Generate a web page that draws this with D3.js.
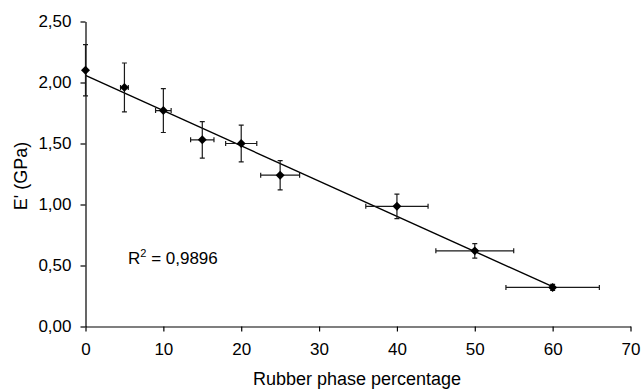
<!DOCTYPE html>
<html>
<head>
<meta charset="utf-8">
<script src="https://cdn.jsdelivr.net/npm/d3@7"></script>
<style>
  html, body { margin: 0; padding: 0; background: #fff; }
  svg { display: block; font-family: "Liberation Sans", Arial, Helvetica, sans-serif; }
</style>
</head>
<body>
<svg id="chart" width="642" height="389"></svg>
<script>
// Storage modulus E' versus rubber phase content
const rubberPct    = [0, 5, 10, 15, 20, 25, 40, 50, 60];
const rubberPctErr = [0, 0.5, 1, 1.5, 2, 2.5, 4, 5, 6];
const modulus      = [2.10, 1.96, 1.77, 1.53, 1.50, 1.24, 0.985, 0.62, 0.32];
const modulusErr   = [0.21, 0.20, 0.18, 0.15, 0.15, 0.12, 0.10, 0.06, 0.025];
const xTicks = [0, 10, 20, 30, 40, 50, 60, 70];
const yTicks = [0, 0.5, 1.0, 1.5, 2.0, 2.5];
const rSquaredLabel = "0,9896";

const svg = d3.select("#chart");
const x = d3.scaleLinear().domain([0, 70]).range([85.5, 630.5]);
const y = d3.scaleLinear().domain([0, 2.5]).range([326.5, 21.5]);

const fmtY = d => d3.format(".2f")(d).replace(".", ",");

// axes
const gx = svg.append("g")
  .attr("transform", `translate(0,${y(0)})`)
  .call(d3.axisBottom(x).tickValues(xTicks).tickSize(5).tickSizeOuter(0).tickPadding(11));
const gy = svg.append("g")
  .attr("transform", `translate(${x(0)},0)`)
  .call(d3.axisLeft(y).tickValues(yTicks).tickFormat(fmtY).tickSize(5).tickSizeOuter(0).tickPadding(9));
[gx, gy].forEach(g => {
  g.selectAll("path, line").attr("stroke", "#000").attr("stroke-width", 1.2);
  g.selectAll("text").attr("fill", "#000").attr("font-size", 17)
    .attr("font-family", "Liberation Sans, Arial, sans-serif");
});

// axis titles
svg.append("text")
  .attr("x", 357).attr("y", 385)
  .attr("text-anchor", "middle").attr("font-size", 18).attr("fill", "#000")
  .text("Rubber phase percentage");
svg.append("text")
  .attr("transform", "translate(27,176) rotate(-90)")
  .attr("text-anchor", "middle").attr("font-size", 18).attr("fill", "#000")
  .text("E' (GPa)");

// least-squares trend line
const mx = d3.mean(rubberPct), my = d3.mean(modulus);
const sxy = d3.sum(rubberPct, (v, i) => (v - mx) * (modulus[i] - my));
const sxx = d3.sum(rubberPct, v => (v - mx) * (v - mx));
const slope = sxy / sxx, intercept = my - slope * mx;
const x0 = d3.min(rubberPct), x1 = d3.max(rubberPct);
svg.append("line")
  .attr("x1", x(x0)).attr("y1", y(intercept + slope * x0))
  .attr("x2", x(x1)).attr("y2", y(intercept + slope * x1))
  .attr("stroke", "#000").attr("stroke-width", 1.4);

// error bars
const pts = rubberPct.map((v, i) => ({ x: v, y: modulus[i], ex: rubberPctErr[i], ey: modulusErr[i] }));
const cap = 2.5;
const eb = svg.append("g").attr("stroke", "#1a1a1a").attr("stroke-width", 1.2).attr("fill", "none");
pts.forEach(p => {
  const cx = x(p.x), cy = y(p.y);
  if (p.ey > 0) {
    const t = y(p.y + p.ey), b = y(p.y - p.ey);
    eb.append("path").attr("d", `M${cx},${t}V${b}M${cx - cap},${t}H${cx + cap}M${cx - cap},${b}H${cx + cap}`);
  }
  if (p.ex > 0) {
    const l = x(p.x - p.ex), r = x(p.x + p.ex);
    eb.append("path").attr("d", `M${l},${cy}H${r}M${l},${cy - cap}V${cy + cap}M${r},${cy - cap}V${cy + cap}`);
  }
});

// diamond markers
const diamond = d3.symbol().type(d3.symbolSquare).size(40);
svg.append("g").selectAll("path").data(pts).join("path")
  .attr("d", diamond)
  .attr("transform", d => `translate(${x(d.x)},${y(d.y)}) rotate(45)`)
  .attr("fill", "#000");

// coefficient of determination
const rt = svg.append("text")
  .attr("x", 128).attr("y", 264).attr("font-size", 17).attr("fill", "#000");
rt.append("tspan").text("R");
rt.append("tspan").attr("font-size", 11).attr("dy", -7).text("2");
rt.append("tspan").attr("dy", 7).text(" = " + rSquaredLabel);
</script>
</body>
</html>
